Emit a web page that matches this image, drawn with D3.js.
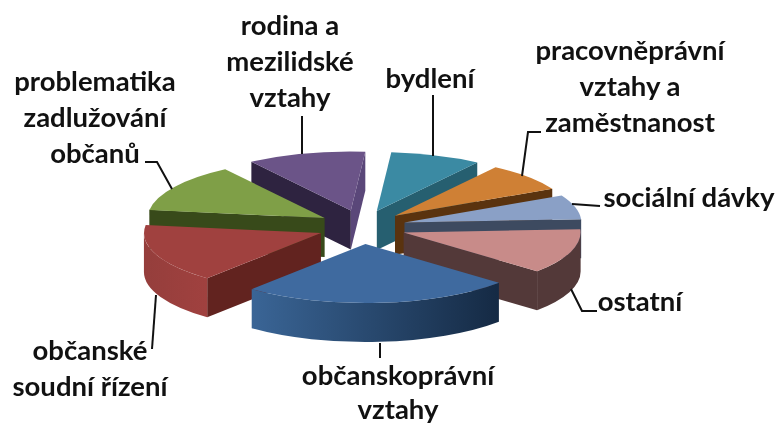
<!DOCTYPE html>
<html>
<head>
<meta charset="utf-8">
<script src="https://cdn.jsdelivr.net/npm/d3@7"></script>
<style>
  html, body { margin: 0; padding: 0; background: #fff; }
  svg { display: block; filter: blur(0.4px); }
  text { font-family: Lato, "Open Sans", sans-serif; font-weight: 700; fill: #111; }
</style>
</head>
<body>
<div id="d3Container"></div>
<script>
const categories = ['bydlení', 'pracovněprávní vztahy a zaměstnanost', 'sociální dávky', 'ostatní', 'občanskoprávní vztahy', 'občanské soudní řízení', 'problematika zadlužování občanů', 'rodina a mezilidské vztahy']
const values = [8.3, 7.8, 6.7, 12.3, 24.7, 16.1, 13.3, 10.8]

const topColors = ['#3b8aa3', '#cf8035', '#8aa0c6', '#c88b89', '#3f6a9f', '#a0413f', '#7f9f47', '#6b5488']
const wallColors = ['#265f70', '#5a330f', '#3d4a60', '#533939', '#1c3552', '#62231f', '#384a1a', '#2e2340']
const endWallColors = ['#265f70', '#5a330f', '#3d4a60', '#533939', '#1c3552', '#62231f', '#384a1a', '#5a4779']
const rimFrom = ['#265f70', '#5a330f', '#3d4a60', '#533939', '#3a6596', '#953e3c', '#384a1a', '#2e2340']
const rimTo = ['#265f70', '#5a330f', '#3d4a60', '#533939', '#152a44', '#a0413f', '#384a1a', '#2e2340']

const labelLines = [
  ['bydlení'],
  ['pracovněprávní', 'vztahy a', 'zaměstnanost'],
  ['sociální dávky'],
  ['ostatní'],
  ['občanskoprávní', 'vztahy'],
  ['občanské', 'soudní řízení'],
  ['problematika', 'zadlužování', 'občanů'],
  ['rodina a', 'mezilidské', 'vztahy']
]

const width = 778
const height = 426
const FONT_SIZE = 27.5
const LINE_HEIGHT = 36
const center = {x: 362, y: 227}
const rx = 177
const ry = 59
const DEPTH = 39
const EXPLODE_X = 44
const EXPLODE_Y = 17
const START = 4.7 * Math.PI / 180

// text centre and first baseline of each label, same order as categories
const labelPos = [[430, 88], [630, 60], [689, 207], [640, 311], [398, 385], [90, 360], [95, 91], [290, 35]]
const leaders = [
  [[433, 95], [433, 156]],
  [[541, 132], [528, 132], [522, 176]],
  [[600, 206], [572, 204]],
  [[597, 311], [582, 311], [571, 289]],
  [[380, 343], [380, 358]],
  [[156, 295], [152, 349]],
  [[145, 162], [157, 162], [172, 189]],
  [[302, 116], [302, 154]]
]
// painter's order, back to front
const drawOrder = [7, 0, 1, 2, 6, 3, 5, 4]

const pie = d3.pie().sort(null).startAngle(START).endAngle(START + Math.PI * 2)
const slices = pie(values)
const arc = d3.arc().innerRadius(0).outerRadius(1)

const svg = d3.select('#d3Container').append('svg').attr('width', width).attr('height', height)
const defs = svg.append('defs')

categories.forEach((c, i) => {
  const g = defs.append('linearGradient').attr('id', `rim${i}`)
  g.append('stop').attr('offset', 0).attr('stop-color', rimFrom[i])
  g.append('stop').attr('offset', 1).attr('stop-color', rimTo[i])
})

// straight cut wall from the apex out to the rim at angle a
function cutWall(a) {
  const dy = DEPTH / ry
  const p = d3.path()
  p.moveTo(0, 0)
  p.lineTo(Math.sin(a), -Math.cos(a))
  p.lineTo(Math.sin(a), -Math.cos(a) + dy)
  p.lineTo(0, dy)
  p.closePath()
  return p.toString()
}

// outer rim between a0 and a1, only the part facing the viewer
function rimWall(a0, a1) {
  const from = Math.max(a0, Math.PI / 2)
  const to = Math.min(a1, Math.PI * 1.5)
  if (to <= from) return null
  const dy = DEPTH / ry
  const p = d3.path()
  p.arc(0, 0, 1, from - Math.PI / 2, to - Math.PI / 2)
  p.arc(0, dy, 1, to - Math.PI / 2, from - Math.PI / 2, true)
  p.closePath()
  return p.toString()
}

const chart = svg.append('g')

drawOrder.forEach(i => {
  const d = slices[i]
  const mid = (d.startAngle + d.endAngle) / 2
  const ax = center.x + EXPLODE_X * Math.sin(mid)
  const ay = center.y - EXPLODE_Y * Math.cos(mid)
  const g = chart.append('g').attr('transform', `translate(${ax},${ay}) scale(${rx},${ry})`)
  const a0 = d.startAngle % (Math.PI * 2)
  const a1 = d.endAngle % (Math.PI * 2)

  // the start cut faces us on the left half, the end cut on the right half
  if (a0 > Math.PI) g.append('path').attr('d', cutWall(a0)).attr('fill', wallColors[i])
  if (a1 < Math.PI) g.append('path').attr('d', cutWall(a1)).attr('fill', endWallColors[i])

  const rim = rimWall(d.startAngle, d.endAngle)
  if (rim) g.append('path').attr('d', rim).attr('fill', `url(#rim${i})`)

  g.append('path').attr('d', arc(d)).attr('fill', topColors[i])
})

const line = d3.line().x(d => d[0]).y(d => d[1])
svg.append('g').selectAll('path')
  .data(leaders)
  .enter()
  .append('path')
  .attr('d', line)
  .attr('fill', 'none')
  .attr('stroke', '#111')
  .attr('stroke-width', 2)

svg.append('g').selectAll('text')
  .data(labelLines)
  .enter()
  .append('text')
  .attr('font-size', FONT_SIZE)
  .attr('text-anchor', 'middle')
  .attr('transform', (d, i) => `translate(${labelPos[i][0]},${labelPos[i][1]})`)
  .selectAll('tspan')
  .data(d => d)
  .enter()
  .append('tspan')
  .attr('x', 0)
  .attr('y', (d, i) => i * (LINE_HEIGHT - (d === 'vztahy' && i === 1 ? 2 : 0)))
  .text(d => d)
</script>
</body>
</html>
